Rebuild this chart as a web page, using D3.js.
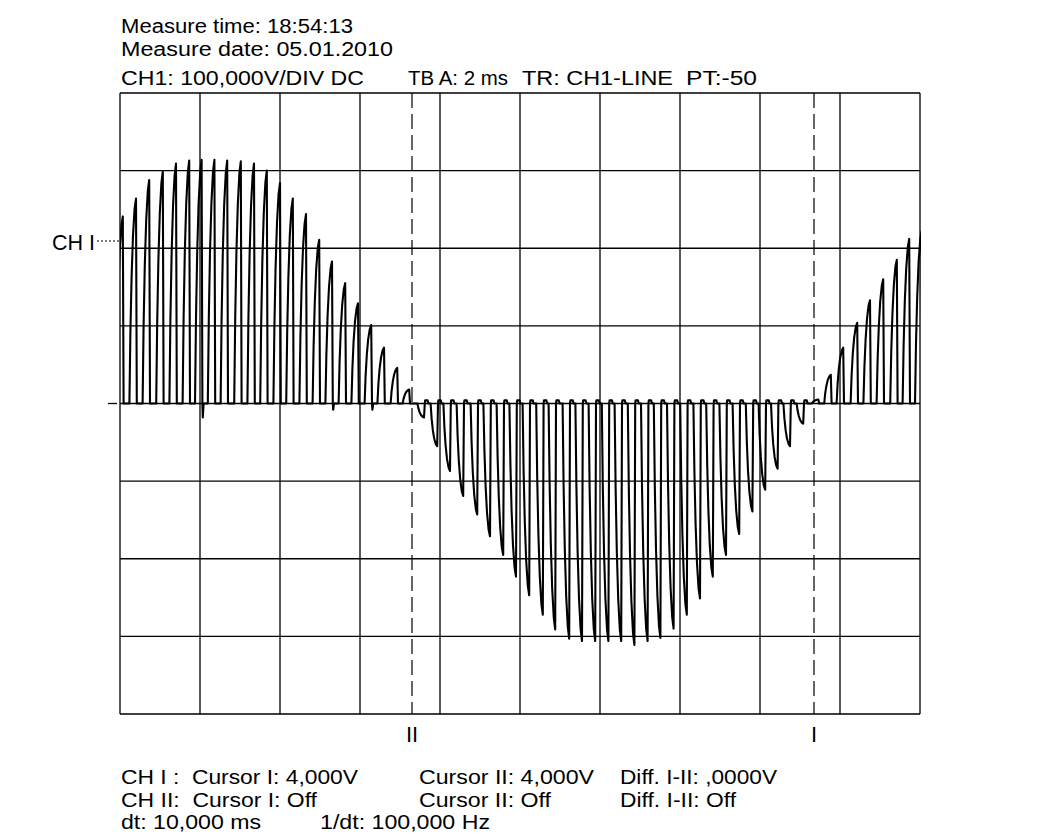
<!DOCTYPE html>
<html>
<head>
<meta charset="utf-8">
<script src="https://cdn.jsdelivr.net/npm/d3@7"></script>
<style>
  html, body { margin: 0; padding: 0; background: #fff; }
  svg text { font-family: "Liberation Sans", Arial, sans-serif; fill: #000; white-space: pre; }
</style>
</head>
<body>
<svg id="chart" width="1041" height="838"></svg>
<script>
// ---- Data (time in ms, value in V) ----
const positivePeakTimes = [0.07, 0.40, 0.73, 1.07, 1.40, 1.73, 2.04, 2.36, 2.68, 3.02, 3.35, 3.67, 4.00, 4.32, 4.65, 4.98, 5.30, 5.63, 5.95, 6.28, 6.60, 6.93, 7.23,
                           17.46, 17.77, 18.08, 18.43, 18.75, 19.08, 19.42, 19.73, 20.04];
const positivePeakValues = [241, 264, 288, 299, 309, 313, 314, 314, 313, 312, 309, 300, 284, 264, 244, 211, 183, 155, 129, 101, 72, 46, 18,
                            5, 37, 72, 104, 133, 160, 185, 212, 222];
const negativePeakTimes = [7.60, 7.93, 8.25, 8.58, 8.93, 9.25, 9.58, 9.90, 10.23, 10.57, 10.88, 11.23, 11.55, 11.88, 12.21, 12.53, 12.86, 13.19,
                           13.51, 13.84, 14.17, 14.50, 14.82, 15.15, 15.48, 15.81, 16.13, 16.44, 16.75, 17.08];
const negativePeakValues = [-18, -55, -87, -119, -143, -171, -195, -223, -247, -272, -291, -303, -306, -306, -306, -306, -311, -306,
                            -302, -290, -272, -251, -223, -195, -168, -139, -111, -84, -55, -26];
const undershootTimes = [2.06, 5.32, 6.30];
const undershootValues = [-18, -8, -8];

const cursorTimes = [7.30, 17.35];
const cursorLabels = ["II", "I"];
const xTicks = [0, 2, 4, 6, 8, 10, 12, 14, 16, 18, 20];
const yTicks = [-400, -300, -200, -100, 0, 100, 200, 300, 400];

const headerLines = ["Measure time: 18:54:13", "Measure date: 05.01.2010"];
const settingsTexts = ["CH1: 100,000V/DIV DC", "TB A: 2 ms", "TR: CH1-LINE", "PT:-50"];
const footerRow1 = ["CH I :  Cursor I: 4,000V", "Cursor II: 4,000V", "Diff. I-II: ,0000V"];
const footerRow2 = ["CH II:  Cursor I: Off", "Cursor II: Off", "Diff. I-II: Off"];
const footerRow3 = ["dt: 10,000 ms", "1/dt: 100,000 Hz"];

// ---- Layout / style ----
const svg = d3.select("#chart");
const L = 120, R = 920, T = 93, B = 714;
const FS = 20;
const x = d3.scaleLinear().domain([0, 20]).range([L, R]);
const y = d3.scaleLinear().domain([-400, 400]).range([B, T]);

// Grid
const grid = svg.append("g").attr("stroke", "#000").attr("stroke-width", 1.3).attr("fill", "none");
grid.selectAll("line.v").data(xTicks).join("line")
  .attr("x1", d => x(d)).attr("x2", d => x(d)).attr("y1", T).attr("y2", B);
grid.selectAll("line.h").data(yTicks).join("line").attr("class", "h")
  .attr("y1", d => y(d)).attr("y2", d => y(d)).attr("x1", L).attr("x2", R);

// Cursors
svg.append("g").selectAll("line").data(cursorTimes).join("line")
  .attr("x1", d => x(d)).attr("x2", d => x(d)).attr("y1", T).attr("y2", B)
  .attr("stroke", "#000").attr("stroke-width", 1.2).attr("stroke-dasharray", "15,6");
svg.append("g").selectAll("text").data(cursorTimes).join("text")
  .attr("x", d => x(d)).attr("y", 742).attr("text-anchor", "middle")
  .attr("font-size", 22).text((d, i) => cursorLabels[i]);

// Build trace
const shape = [[-0.165, 0], [-0.14, 0.35], [-0.11, 0.62], [-0.075, 0.82], [-0.035, 0.95], [0, 1], [0.02, 0]];
const pulses = [];
positivePeakTimes.forEach((t, i) => pulses.push({t, v: positivePeakValues[i], neg: false}));
negativePeakTimes.forEach((t, i) => pulses.push({t, v: negativePeakValues[i], neg: true}));
pulses.sort((a, b) => a.t - b.t);
const pts = [];
pulses.forEach(p => {
  shape.forEach(([dt, f]) => pts.push([p.t + dt, p.v * f]));
  const ui = undershootTimes.findIndex(u => Math.abs(u - p.t) < 0.05);
  if (ui >= 0) { pts.push([p.t + 0.03, undershootValues[ui]]); pts.push([p.t + 0.05, 0]); }
  if (p.neg) { pts.push([p.t + 0.03, 4]); pts.push([p.t + 0.09, 4]); pts.push([p.t + 0.11, 0]); }
});

svg.append("clipPath").attr("id", "clip").append("rect")
  .attr("x", L).attr("y", T - 2).attr("width", R - L + 1).attr("height", B - T + 4);
svg.append("path").datum(pts)
  .attr("clip-path", "url(#clip)")
  .attr("fill", "none").attr("stroke", "#000").attr("stroke-width", 2.1)
  .attr("stroke-linejoin", "round")
  .attr("d", d3.line().x(d => x(d[0])).y(d => y(d[1])));

// Zero marker and channel label
svg.append("line").attr("x1", 108).attr("x2", 117).attr("y1", y(0)).attr("y2", y(0))
  .attr("stroke", "#000").attr("stroke-width", 1.3);
svg.append("line").attr("x1", 97).attr("x2", L).attr("y1", 241).attr("y2", 241)
  .attr("stroke", "#000").attr("stroke-width", 1).attr("stroke-dasharray", "2,2");
svg.append("text").attr("x", 52).attr("y", 250).attr("font-size", 22)
  .attr("textLength", 43).attr("lengthAdjust", "spacingAndGlyphs").text("CH I");

// Text helper: place a text with a given start x, baseline y and width
function putText(str, tx, ty, w) {
  const t = svg.append("text").attr("x", tx).attr("y", ty).attr("font-size", FS).text(str);
  if (w) t.attr("textLength", w).attr("lengthAdjust", "spacingAndGlyphs");
}
const headerW = [232, 272];
headerLines.forEach((s, i) => putText(s, 121, 33 + i * 22.5, headerW[i]));
const settingsX = [121, 408, 522, 686];
const settingsW = [243, 100, 151, 71];
settingsTexts.forEach((s, i) => putText(s, settingsX[i], 85, settingsW[i]));

const colX = [121, 419, 620];
const row1W = [237, 175, 157];
const row2W = [196, 132, 116];
footerRow1.forEach((s, i) => putText(s, colX[i], 784, row1W[i]));
footerRow2.forEach((s, i) => putText(s, colX[i], 806.5, row2W[i]));
const row3X = [121, 320];
const row3W = [140, 170];
footerRow3.forEach((s, i) => putText(s, row3X[i], 829, row3W[i]));
</script>
</body>
</html>
